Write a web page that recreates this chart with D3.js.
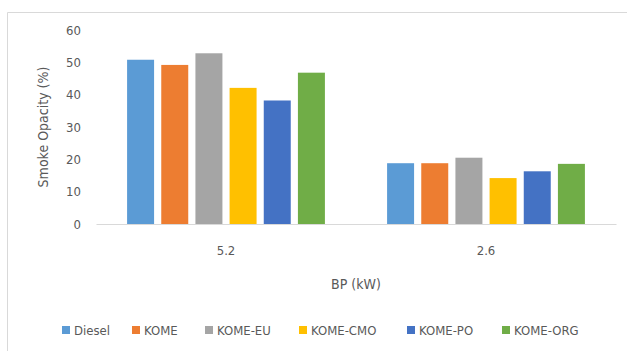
<!DOCTYPE html>
<html>
  <head>
    <style>
     body{ margin:0; background:#fff; }
     text{ font-family:"Liberation Sans Narrow","DejaVu Sans Condensed",sans-serif; fill:#595959; }
    </style>
    <script src="https://d3js.org/d3.v7.min.js"></script>
  </head>
  <body>
    <script>
    const categories = ["5.2", "2.6"];
    const seriesNames = ["Diesel", "KOME", "KOME-EU", "KOME-CMO", "KOME-PO", "KOME-ORG"];
    const colors = ["#5b9bd5", "#ed7d31", "#a5a5a5", "#ffc000", "#4472c4", "#70ad47"];
    const values = [
      [50.8, 18.8],   // Diesel
      [49.2, 18.8],   // KOME
      [52.8, 20.5],   // KOME-EU
      [42.1, 14.2],   // KOME-CMO
      [38.2, 16.3],   // KOME-PO
      [46.8, 18.6]    // KOME-ORG
    ];
    const yTicks = [0, 10, 20, 30, 40, 50, 60];

    const w = 627, h = 351;
    const svg = d3.select("body").append("svg").attr("width", w).attr("height", h);

    // chart frame
    svg.append("path").attr("d", "M7.5," + h + "V12.5H" + w)
       .attr("fill", "none").attr("stroke", "#d9d9d9");

    const plotL = 96, plotR = 616, plotT = 30, plotB = 224;
    const x0 = d3.scaleBand().domain(categories).range([plotL, plotR]);
    const x1 = d3.scaleBand().domain(seriesNames).range([0, x0.bandwidth()])
                 .paddingInner(0.21).paddingOuter(0.91);
    const y = d3.scaleLinear().domain([0, 60]).range([plotB, plotT]);

    const yAxis = d3.axisLeft(y).tickValues(yTicks).tickSize(0).tickPadding(0);
    const gy = svg.append("g").attr("transform", "translate(81,0)").call(yAxis);
    gy.select(".domain").remove();
    gy.selectAll("text").style("font-size", "13px").attr("fill", "#595959");

    const xAxis = d3.axisBottom(x0).tickSize(0).tickPadding(22);
    const gx = svg.append("g").attr("transform", "translate(0," + plotB + ")").call(xAxis);
    gx.select(".domain").attr("stroke", "#d9d9d9");
    gx.selectAll("text").style("font-size", "13px").attr("fill", "#595959");

    seriesNames.forEach(function (s, i) {
      svg.append("g").selectAll("rect")
        .data(values[i])
        .enter()
        .append("rect")
        .attr("x", (d, j) => x0(categories[j]) + x1(s))
        .attr("y", d => y(d))
        .attr("width", x1.bandwidth())
        .attr("height", d => y(0) - y(d))
        .attr("fill", colors[i]);
    });

    svg.append("text").attr("x", 356).attr("y", 289).attr("text-anchor", "middle")
       .style("font-size", "14px").text("BP (kW)");

    svg.append("text").attr("transform", "translate(48,127) rotate(-90)")
       .attr("text-anchor", "middle").style("font-size", "14px").text("Smoke Opacity (%)");

    const legendX = [62, 132, 205, 299, 407, 502];
    const lg = svg.append("g").selectAll("g").data(seriesNames).enter().append("g")
       .attr("transform", (d, i) => "translate(" + legendX[i] + ",330)");
    lg.append("rect").attr("x", 0).attr("y", -4).attr("width", 8).attr("height", 8)
       .attr("fill", (d, i) => colors[i]);
    lg.append("text").attr("x", 12).attr("y", 5).style("font-size", "13px").text(d => d);
    </script>
  </body>
</html>
